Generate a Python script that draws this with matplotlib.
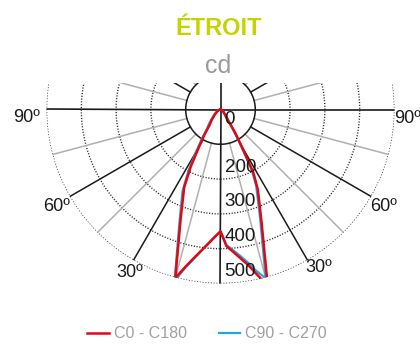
import numpy as np
import matplotlib
matplotlib.use("Agg")
import matplotlib.pyplot as plt
from matplotlib import font_manager
from matplotlib.patches import Rectangle

# ---------------- data ----------------
angles_deg = [-90, -75, -60, -50, -40, -35, -32.5, -30, -27.5, -25, -20, -15, -12.5, -10,
              -7.5, -5, -2.5, 0, 2.5, 5, 7.5, 10, 12.5, 15, 20, 25, 27.5, 30, 32.5, 35,
              40, 50, 60, 75, 90]
c0_c180 = [0, 4, 10, 20, 40, 55, 85, 122, 185, 247, 335, 501, 462, 432,
           407, 385, 366, 350, 393, 410, 430, 453, 486, 525, 345, 254, 205, 120, 75, 40,
           22, 12, 7, 3, 0]
c90_c270 = [0, 5, 12, 24, 48, 68, 100, 140, 200, 258, 345, 510, 465, 434,
            408, 386, 366, 350, 390, 405, 423, 445, 475, 502, 333, 243, 192, 105, 62, 33,
            18, 10, 6, 2, 0]
series_names = ["C0 - C180", "C90 - C270"]
ring_values = [100, 200, 300, 400, 500]
ring_labels = ["0", "200", "300", "400", "500"]
angle_labels = [90, 60, 30]
title = "ÉTROIT"
unit = "cd"

# ---------------- fonts ----------------
names = {f.name for f in font_manager.fontManager.ttflist}
NARROW = next(n for n in ["Liberation Sans Narrow", "Arial Narrow", "Liberation Sans", "DejaVu Sans"]
              if n in names or n == "DejaVu Sans")
FAM = [NARROW, "DejaVu Sans"]

RED = "#e30613"
BLUE = "#27a4dd"
TITLE_C = "#c5d400"

W, H, DPI = 420, 344, 100
fig = plt.figure(figsize=(W / DPI, H / DPI), dpi=DPI)
fig.patch.set_facecolor("white")

cx, cy, R = 220.5, 109.5, 174.0
ax = fig.add_axes([(cx - R) / W, (H - cy - R) / H, 2 * R / W, 2 * R / H], projection="polar")
ax.set_theta_zero_location("S")
ax.set_theta_direction(1)
rmax = ring_values[-1]
ax.set_ylim(0, rmax)
ax.grid(False)
ax.set_xticks([])
ax.set_yticks([])
ax.spines["polar"].set_visible(False)
ax.patch.set_alpha(0)

full = np.linspace(0, 2 * np.pi, 721)
# rings
for v in ring_values:
    if v == ring_values[0]:
        ax.plot(full, np.full_like(full, v), color="#1a1a1a", lw=1.1, zorder=2)
    else:
        ax.plot(full, np.full_like(full, v), color="#2a2a2a", lw=1.0,
                linestyle=(0, (0.8, 1.2)), zorder=1)
# spokes
for a in range(0, 360, 15):
    t = np.deg2rad(a)
    if a % 90 == 0:
        ax.plot([t, t], [0, rmax], color="#1a1a1a", lw=1.2, zorder=2)
    elif a % 30 == 0:
        ax.plot([t, t], [ring_values[0], rmax], color="#1a1a1a", lw=1.1, zorder=2)
    else:
        ax.plot([t, t], [ring_values[0], rmax], color="#b0b0b0", lw=1.1, zorder=1)

th = np.deg2rad(angles_deg)
l2, = ax.plot(th, c90_c270, color=BLUE, lw=1.6, zorder=4, label=series_names[1])
l1, = ax.plot(th, c0_c180, color=RED, lw=1.8, zorder=5, label=series_names[0])

# radial labels
for v, lab in zip([0] + ring_values[1:], ring_labels):
    dy = -10 if v == 0 else 12
    ax.annotate(lab, xy=(0, v), xytext=(4, dy), textcoords="offset pixels",
                ha="left", va="center", fontsize=13.5, family=FAM, color="#1a1a1a", zorder=6)

# angle labels
offs = {30: ((11, -7.5), (-3.5, -12)), 60: ((12, -10), (-13.5, -10)), 90: ((13, -8.5), (-20, -8))}
for a in angle_labels:
    for sgn, off in zip([1, -1], offs[a]):
        ax.annotate(f"{a}º", xy=(np.deg2rad(sgn * a), rmax), xytext=off,
                    textcoords="offset pixels", ha="center", va="center",
                    fontsize=13, family=FAM, color="#1a1a1a", annotation_clip=False)

# mask the top part of the polar plot
fig.add_artist(Rectangle((0, (H - 83) / H), 1, 1, transform=fig.transFigure,
                         facecolor="white", edgecolor="none", zorder=1))

fig.text(219 / W, 1 - 35 / H, title, ha="center", va="baseline", fontsize=17,
         fontweight="bold", family=FAM, color=TITLE_C, zorder=5)
fig.text(218 / W, 1 - 73 / H, unit, ha="center", va="baseline", fontsize=18,
         family=FAM, color="#9a9a9a", zorder=5)

leg = fig.legend(handles=[l1, l2], labels=series_names, loc="center",
                 bbox_to_anchor=(207 / W, 1 - 334 / H), ncol=2, frameon=False,
                 handlelength=1.35, handletextpad=0.32, columnspacing=2.0,
                 prop={"family": FAM, "size": 11.5})
for t in leg.get_texts():
    t.set_color("#a0a0a0")
leg.set_zorder(5)

fig.savefig("out.png", dpi=DPI)
